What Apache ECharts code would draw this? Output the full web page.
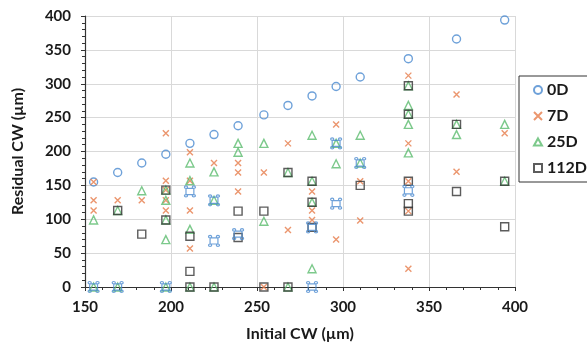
<!DOCTYPE html>
<html><head><meta charset="utf-8">
<script src="https://cdn.jsdelivr.net/npm/echarts@6/dist/echarts.min.js"></script>
<style>html,body{margin:0;padding:0;background:#fff}#c{width:587px;height:347px}</style>
</head><body><div id="c"></div>
<script>
// ---- data (Initial CW µm, Residual CW µm) ----
var xTicks = [150, 200, 250, 300, 350, 400];
var yTicks = [0, 50, 100, 150, 200, 250, 300, 350, 400];
var seriesNames = ['0D', '7D', '25D', '112D'];
var d0D = [[155,155],[169,169],[183,183],[197,196],[211,212],[225,225],[239,238],[254,254],[268,268],[282,282],[296,296],[310,310],[338,337],[366,366],[394,394]];
var d7D = [[155,155],[155,128],[155,113],[169,128],[183,128],[197,227],[197,157],[197,143],[197,128],[197,113],
  [211,199],[211,157],[211,113],[211,57],[225,183],[239,183],[239,169],[239,141],[254,169],[254,0],
  [268,212],[268,84],[282,141],[282,113],[282,99],[296,240],[296,70],[310,156],[310,98],
  [338,312],[338,212],[338,156],[338,112],[338,27],[366,284],[366,170],[394,227]];
var d25D = [[155,99],[155,0],[169,113],[169,0],[183,142],[197,143],[197,128],[197,99],[197,70],[197,0],
  [211,183],[211,157],[211,85],[211,0],[225,170],[225,128],[225,0],[239,212],[239,199],[254,212],[254,97],
  [268,169],[268,0],[282,224],[282,156],[282,125],[282,27],[296,212],[296,182],[310,224],[310,183],
  [338,297],[338,268],[338,255],[338,240],[338,198],[366,240],[366,225],[394,240],[394,156]];
var d112D = [[169,113],[183,78],[197,143],[197,99],[211,75],[211,23],[211,0],[225,0],[239,112],[239,73],
  [254,112],[254,0],[268,169],[268,0],[282,156],[282,125],[282,88],[310,150],
  [338,297],[338,255],[338,156],[338,123],[338,112],[366,240],[366,141],[394,156],[394,89]];
var dOverlap = [[155,0],[169,0],[197,0],[211,141],[225,128],[225,68],[239,78],[282,88],[282,0],[296,212],[296,123],[310,183],[338,142]];

var colors = {'0D':'#4a89cf','7D':'#e67c4a','25D':'#5bbb6e','112D':'#333333'};
var sym = {
  '0D':'path://M20,10A10,10 0 1,1 0,10A10,10 0 1,1 20,10Z',
  '7D':'path://M0,0L20,20M20,0L0,20',
  '25D':'path://M10,1L19.5,18L0.5,18Z',
  '112D':'path://M0,0L20,0L20,20L0,20Z'
};
var symSize = {'0D':8,'7D':6,'25D':8,'112D':8};
var dataMap = {'0D':d0D,'7D':d7D,'25D':d25D,'112D':d112D};
var font = 'Lato, "Open Sans", sans-serif';

var series = seriesNames.map(function(n){
  return {
    name:n, type:'scatter', data:dataMap[n], symbol:sym[n], symbolSize:symSize[n],
    itemStyle:{color:'rgba(0,0,0,0)', borderColor:colors[n], borderWidth:1.4},
    emphasis:{disabled:true}, silent:true
  };
});
series.push({
  name:'overlap', type:'scatter', data:dOverlap,
  symbol:'path://M6,6L16,6L16,16L6,16Z M8,4A2,2 0 1,1 4,4A2,2 0 1,1 8,4Z M18,4A2,2 0 1,1 14,4A2,2 0 1,1 18,4Z M18,18A2,2 0 1,1 14,18A2,2 0 1,1 18,18Z M8,18A2,2 0 1,1 4,18A2,2 0 1,1 8,18Z',
  symbolSize:11, itemStyle:{color:'rgba(0,0,0,0)', borderColor:'#4a89cf', borderWidth:1.2},
  emphasis:{disabled:true}, silent:true
});

var chart = echarts.init(document.getElementById('c'), null, {renderer:'canvas'});
chart.setOption({
  animation:false,
  backgroundColor:'#fff',
  grid:{left:85, right:72, top:16, bottom:56, containLabel:false},
  xAxis:{type:'value', min:xTicks[0], max:xTicks[xTicks.length-1], interval:50,
    name:'Initial CW (µm)', nameLocation:'middle', nameGap:39,
    nameTextStyle:{fontFamily:font, fontWeight:'bold', fontSize:16, color:'#1a1a1a'},
    axisLine:{lineStyle:{color:'#333', width:1.2}},
    axisTick:{show:true, length:4, lineStyle:{color:'#333'}},
    minorTick:{show:true, splitNumber:5, length:3, lineStyle:{color:'#333'}},
    axisLabel:{fontFamily:font, fontWeight:'bold', fontSize:15, color:'#1a1a1a', margin:13},
    splitLine:{show:true, lineStyle:{color:'#d9d9d9', width:1}}
  },
  yAxis:{type:'value', min:yTicks[0], max:yTicks[yTicks.length-1], interval:50,
    name:'Residual CW (µm)', nameLocation:'middle', nameGap:59,
    nameTextStyle:{fontFamily:font, fontWeight:'bold', fontSize:16, color:'#1a1a1a'},
    axisLine:{show:true, lineStyle:{color:'#333', width:1.2}},
    axisTick:{show:true, length:4, lineStyle:{color:'#333'}},
    minorTick:{show:true, splitNumber:5, length:3, lineStyle:{color:'#333'}},
    axisLabel:{fontFamily:font, fontWeight:'bold', fontSize:15, color:'#1a1a1a', margin:14},
    splitLine:{show:true, lineStyle:{color:'#d9d9d9', width:1}}
  },
  legend:{data:seriesNames, orient:'vertical', left:519, top:76,
    padding:[4,40,4,14], itemGap:6, itemWidth:8, itemHeight:8,
    borderColor:'#333', borderWidth:1,
    textStyle:{fontFamily:font, fontWeight:'bold', fontSize:16, color:'#1a1a1a', lineHeight:20},
    selectedMode:false},
  series:series
});
</script></body></html>
